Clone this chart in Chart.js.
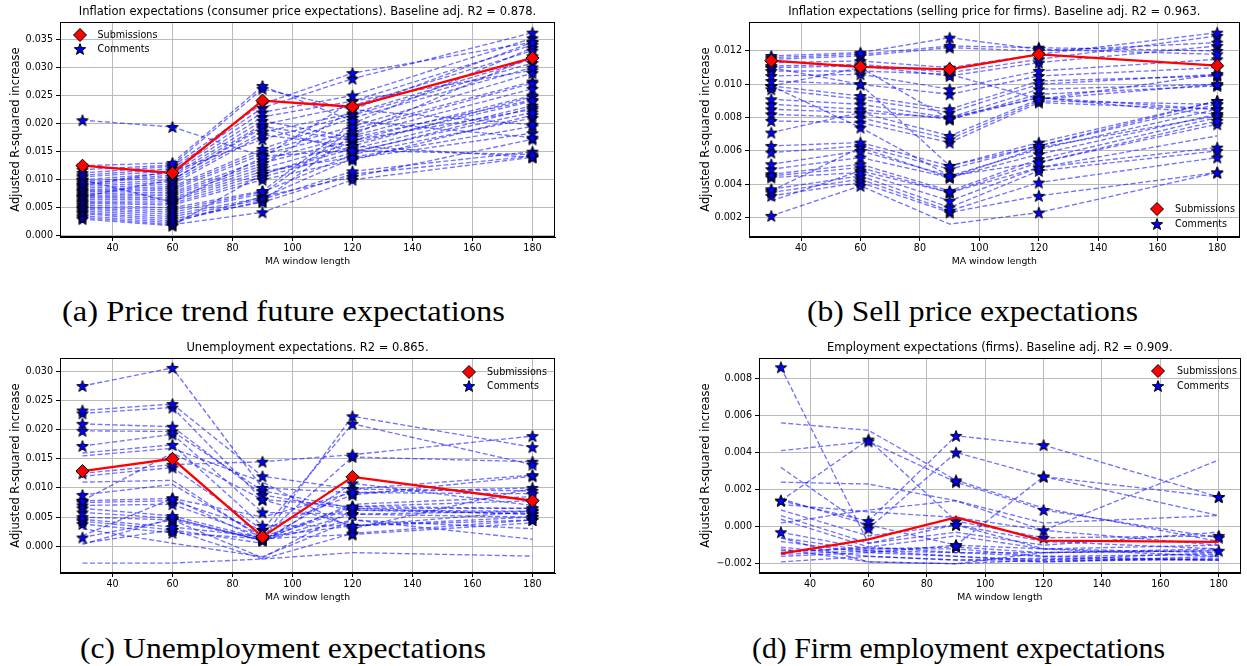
<!DOCTYPE html>
<html>
<head>
<meta charset="utf-8">
<script src="https://cdn.jsdelivr.net/npm/chart.js@4.4.1/dist/chart.umd.min.js"></script>
<style>
  html, body { margin: 0; padding: 0; background: #fff; }
  body { width: 1247px; height: 666px; position: relative; overflow: hidden; }
  canvas { position: absolute; }
  .cap { position: absolute; white-space: nowrap; font-family: "Liberation Serif", "Times New Roman", serif; font-size: 30px; color: #000; transform-origin: 0 50%; line-height: 30px; }
  .leg { position: absolute; font-family: "DejaVu Sans", sans-serif; font-size: 9.6px; color: #000; white-space: nowrap; line-height: 12px; }
  .legm { position: absolute; }
</style>
</head>
<body>
<canvas id="ca" width="575" height="275" style="left:0px;top:0px"></canvas>
<canvas id="cb" width="557" height="275" style="left:690px;top:0px"></canvas>
<canvas id="cc" width="575" height="275" style="left:0px;top:336px"></canvas>
<canvas id="cd" width="557" height="275" style="left:690px;top:336px"></canvas>
<script>
// ---------------- data ----------------
const xWindows = [30, 60, 90, 120, 180];
const xTickValues = [40, 60, 80, 100, 120, 140, 160, 180];

const titleA = 'Inflation expectations (consumer price expectations). Baseline adj. R2 = 0.878.';
const titleB = 'Inflation expectations (selling price for firms). Baseline adj. R2 = 0.963.';
const titleC = 'Unemployment expectations. R2 = 0.865.';
const titleD = 'Employment expectations (firms). Baseline adj. R2 = 0.909.';

const captionA = '(a) Price trend future expectations';
const captionB = '(b) Sell price expectations';
const captionC = '(c) Unemployment expectations';
const captionD = '(d) Firm employment expectations';

const legendLabels = ['Submissions', 'Comments'];

const aSubmissions = [0.0125, 0.0112, 0.0241, 0.0230, 0.0317];
const aComments = [
  [0.0206, 0.0194, 0.0142, 0.0152, 0.0145],
  [0.0125, 0.0130, 0.0267, 0.0205, 0.0175],
  [0.0118, 0.0126, 0.0262, 0.0225, 0.0198],
  [0.0112, 0.0124, 0.0235, 0.0290, 0.0345],
  [0.0108, 0.0120, 0.0228, 0.0280, 0.0362],
  [0.0105, 0.0116, 0.0220, 0.0250, 0.0352],
  [0.0100, 0.0112, 0.0212, 0.0240, 0.0340],
  [0.0097, 0.0108, 0.0205, 0.0175, 0.0242],
  [0.0094, 0.0105, 0.0198, 0.0232, 0.0330],
  [0.0091, 0.0100, 0.0192, 0.0150, 0.0220],
  [0.0088, 0.0096, 0.0185, 0.0218, 0.0315],
  [0.0085, 0.0092, 0.0180, 0.0160, 0.0140],
  [0.0082, 0.0088, 0.0155, 0.0210, 0.0300],
  [0.0080, 0.0085, 0.0150, 0.0195, 0.0290],
  [0.0078, 0.0082, 0.0145, 0.0185, 0.0272],
  [0.0075, 0.0078, 0.0135, 0.0178, 0.0262],
  [0.0072, 0.0075, 0.0130, 0.0170, 0.0250],
  [0.0070, 0.0072, 0.0125, 0.0225, 0.0345],
  [0.0068, 0.0068, 0.0120, 0.0165, 0.0240],
  [0.0065, 0.0065, 0.0115, 0.0140, 0.0195],
  [0.0062, 0.0062, 0.0110, 0.0155, 0.0232],
  [0.0060, 0.0058, 0.0105, 0.0148, 0.0228],
  [0.0058, 0.0055, 0.0100, 0.0135, 0.0215],
  [0.0055, 0.0050, 0.0080, 0.0200, 0.0335],
  [0.0052, 0.0046, 0.0078, 0.0145, 0.0210],
  [0.0050, 0.0042, 0.0075, 0.0190, 0.0275],
  [0.0048, 0.0038, 0.0068, 0.0138, 0.0183],
  [0.0045, 0.0034, 0.0065, 0.0115, 0.0150],
  [0.0042, 0.0030, 0.0060, 0.0110, 0.0142],
  [0.0040, 0.0026, 0.0062, 0.0180, 0.0320],
  [0.0036, 0.0023, 0.0070, 0.0105, 0.0172],
  [0.0033, 0.0020, 0.0042, 0.0100, 0.0140],
  [0.0030, 0.0018, 0.0110, 0.0160, 0.0248],
  [0.0090, 0.0115, 0.0172, 0.0215, 0.0308],
  [0.0100, 0.0060, 0.0140, 0.0240, 0.0295],
  [0.0070, 0.0100, 0.0195, 0.0170, 0.0225]
];

const bSubmissions = [0.01142, 0.01105, 0.01090, 0.01180, 0.01112];
const bComments = [
  [0.0117, 0.0119, 0.0128, 0.0121, 0.0118],
  [0.0116, 0.0118, 0.0123, 0.0122, 0.0120],
  [0.0115, 0.0117, 0.0122, 0.0120, 0.0125],
  [0.0113, 0.0114, 0.0110, 0.0118, 0.0131],
  [0.0111, 0.0112, 0.0107, 0.0115, 0.0129],
  [0.0110, 0.0111, 0.0105, 0.0113, 0.0123],
  [0.0108, 0.0108, 0.0106, 0.0091, 0.0106],
  [0.0105, 0.0106, 0.0097, 0.0108, 0.0115],
  [0.0102, 0.0100, 0.0094, 0.0105, 0.0110],
  [0.0099, 0.0093, 0.0085, 0.0102, 0.0105],
  [0.0097, 0.0091, 0.0083, 0.0100, 0.0106],
  [0.0091, 0.0088, 0.0080, 0.0097, 0.0100],
  [0.0088, 0.0085, 0.0079, 0.0094, 0.0099],
  [0.0085, 0.0083, 0.0069, 0.0091, 0.0100],
  [0.0082, 0.0080, 0.0067, 0.0090, 0.0088],
  [0.0078, 0.0077, 0.0065, 0.0089, 0.0085],
  [0.0071, 0.0083, 0.0080, 0.0092, 0.0082],
  [0.0099, 0.0074, 0.0045, 0.0053, 0.0078],
  [0.0110, 0.0100, 0.0051, 0.0063, 0.0090],
  [0.0063, 0.0065, 0.0051, 0.0065, 0.0090],
  [0.0059, 0.0063, 0.0049, 0.0063, 0.0088],
  [0.0052, 0.0060, 0.0045, 0.0061, 0.0085],
  [0.0049, 0.0056, 0.0044, 0.0058, 0.0082],
  [0.0046, 0.0052, 0.0036, 0.0055, 0.0080],
  [0.0045, 0.0050, 0.0035, 0.0053, 0.0076],
  [0.0044, 0.0047, 0.0030, 0.0050, 0.0062],
  [0.0037, 0.0045, 0.0026, 0.0048, 0.0060],
  [0.0035, 0.0043, 0.0024, 0.0041, 0.0056],
  [0.0033, 0.0041, 0.0023, 0.0033, 0.0047],
  [0.0021, 0.0039, 0.0016, 0.0023, 0.0047],
  [0.0030, 0.0048, 0.0035, 0.0050, 0.0069],
  [0.0036, 0.0062, 0.0044, 0.0062, 0.0081],
  [0.0099, 0.0110, 0.0079, 0.0092, 0.0085]
];
const bStars = [
  '11111','11111','11111','11111','11111','11111','11111','11111','11111','11111',
  '11111','11111','11111','11111','11111','11111','11111','11111','11111','11111',
  '11111','11111','11111','11111','11111','11111','11111','11111','11111','11011',
  '01110','11111','11111'
];

const cSubmissions = [0.0129, 0.0150, 0.0016, 0.0119, 0.0078];
const cComments = [
  [0.0275, 0.0306, 0.0100, 0.0092, 0.0090],
  [0.0233, 0.0244, 0.0120, 0.0098, 0.0095],
  [0.0228, 0.0238, 0.0080, 0.0068, 0.0065],
  [0.0210, 0.0205, 0.0088, 0.0062, 0.0060],
  [0.0198, 0.0197, 0.0095, 0.0065, 0.0055],
  [0.0172, 0.0192, 0.0058, 0.0055, 0.0050],
  [0.0160, 0.0174, 0.0035, 0.0035, 0.0045],
  [0.0155, 0.0168, 0.0110, 0.0030, 0.0100],
  [0.0125, 0.0140, 0.0145, 0.0157, 0.0189],
  [0.0120, 0.0135, 0.0028, 0.0210, 0.0140],
  [0.0110, 0.0113, 0.0013, 0.0223, 0.0170],
  [0.0088, 0.0106, 0.0016, 0.0153, 0.0145],
  [0.0078, 0.0082, 0.0010, 0.0098, 0.0122],
  [0.0075, 0.0078, 0.0028, 0.0088, 0.0120],
  [0.0070, 0.0072, 0.0016, 0.0068, 0.0078],
  [0.0065, 0.0052, 0.0013, 0.0065, 0.0065],
  [0.0058, 0.0048, 0.0010, 0.0055, 0.0060],
  [0.0050, 0.0045, -0.0020, 0.0062, 0.0055],
  [0.0046, 0.0033, 0.0016, 0.0035, 0.0050],
  [0.0043, 0.0028, -0.0022, 0.0022, 0.0045],
  [0.0038, 0.0023, 0.0013, 0.0020, 0.0040],
  [0.0015, 0.0045, 0.0010, 0.0072, 0.0085],
  [0.0030, 0.0005, -0.0018, 0.0045, 0.0030],
  [0.0005, 0.0028, 0.0005, 0.0108, 0.0070],
  [-0.0029, -0.0029, -0.0022, -0.0011, -0.0017],
  [0.0003, 0.0048, 0.0010, 0.0045, 0.0012],
  [0.0018, 0.0082, 0.0050, 0.0092, 0.0100],
  [0.0078, 0.0160, 0.0080, 0.0035, 0.0060]
];
const cStars = [
  '11111','11111','11111','11111','11111','11111','01111','00010','11111','01111',
  '00111','10111','11111','11111','11111','11111','11111','11011','11111','11011',
  '11110','11100','00000','01010','00000','01000','01011','10101'
];

const dSubmissions = [-0.00145, -0.00068, 0.00050, -0.00075, -0.00082];
const dComments = [
  [0.0086, -0.0009, 0.0001, -0.0012, -0.0014],
  [0.0056, 0.0052, 0.0025, 0.0010, -0.0008],
  [0.0041, 0.0046, 0.0024, 0.0009, -0.0006],
  [0.0014, 0.0047, 0.0003, -0.0006, -0.0005],
  [0.0014, 0.0003, 0.0049, 0.0044, 0.0016],
  [0.0032, -0.0001, 0.0040, 0.0027, 0.0016],
  [0.0024, 0.0023, 0.0014, -0.0002, 0.0036],
  [0.0015, 0.0001, -0.0010, 0.0027, 0.0006],
  [0.0012, 0.0008, 0.0005, -0.0002, -0.0010],
  [0.0009, -0.0005, 0.0001, -0.0008, -0.0012],
  [0.0006, -0.0009, -0.0003, -0.0010, -0.0003],
  [0.0004, -0.0011, -0.0005, -0.0012, -0.0016],
  [-0.0003, -0.0012, -0.0011, -0.0014, -0.0013],
  [-0.0006, -0.0013, -0.0014, -0.0016, -0.0018],
  [-0.0008, -0.0014, -0.0016, -0.0018, -0.0014],
  [-0.0011, -0.0016, -0.0018, -0.0019, -0.0016],
  [-0.0012, -0.0019, -0.0020, -0.0018, -0.0018],
  [-0.0013, -0.0012, -0.0012, -0.0016, -0.0015],
  [-0.0014, -0.0011, -0.0014, -0.0014, -0.0012],
  [-0.0015, -0.0013, -0.0016, -0.0019, -0.0017],
  [-0.0016, -0.0014, -0.0010, -0.0012, -0.0010],
  [-0.0019, -0.0016, -0.0018, -0.0017, -0.0018],
  [0.0002, 0.0009, 0.0014, 0.0002, 0.0006],
  [-0.0006, -0.0019, -0.0020, -0.0014, -0.0013]
];
const dStars = [
  '10100','00100','01111','11111','11111','01111','00010','01110','00000','00100',
  '00000','00000','10101','00000','00000','00000','00000','00000','00000','00000',
  '00100','00000','00000','00000'
];

// ---------------- rendering ----------------
const BASE_FONT = 9.6;
const TITLE_FONT = 11.5;
const YLABEL_FONT = 11.5;
const XLABEL_FONT = 9.3;

Chart.defaults.font.family = '"DejaVu Sans", sans-serif';
Chart.defaults.font.size = BASE_FONT;
Chart.defaults.color = '#000';

function makeStarImage() {
  const c = document.createElement('canvas');
  c.width = 14; c.height = 14;
  const g = c.getContext('2d');
  g.beginPath();
  for (let i = 0; i < 10; i++) {
    const r = i % 2 ? 2.5 : 6;
    const a = -Math.PI / 2 + i * Math.PI / 5;
    g.lineTo(7 + r * Math.cos(a), 7.6 + r * Math.sin(a));
  }
  g.closePath();
  g.fillStyle = '#0000ff';
  g.fill();
  g.lineWidth = 1;
  g.strokeStyle = '#000';
  g.stroke();
  return c;
}
const STAR = makeStarImage();

const framePlugin = {
  id: 'frame',
  afterDatasetsDraw(chart) {
    const a = chart.chartArea;
    const ctx = chart.ctx;
    ctx.save();
    ctx.strokeStyle = '#000';
    ctx.lineWidth = 1;
    ctx.strokeRect(Math.round(a.left) + 0.5, Math.round(a.top) + 0.5,
      Math.round(a.right) - Math.round(a.left) - 1, Math.round(a.bottom) - Math.round(a.top) - 1);
    ctx.restore();
  }
};

function fmtTick(v) {
  if (Math.abs(v) < 1e-12) v = 0;
  return v.toFixed(3).replace('-', '\u2212');
}

function makeChart(id, spec) {
  const datasets = [];
  datasets.push({
    label: legendLabels[0],
    data: xWindows.map((x, i) => ({ x: x, y: spec.sub[i] })),
    borderColor: '#ff0000',
    borderWidth: 2.3,
    pointStyle: 'rectRot',
    pointRadius: spec.subMarkers ? 6.5 : 0,
    pointHoverRadius: spec.subMarkers ? 6.5 : 0,
    pointBackgroundColor: '#ff0000',
    pointBorderColor: '#000',
    pointBorderWidth: 1,
    clip: false
  });
  spec.comments.forEach((row, k) => {
    const marks = spec.stars ? spec.stars[k] : '11111';
    datasets.push({
      label: legendLabels[1],
      data: xWindows.map((x, i) => ({ x: x, y: row[i] })),
      borderColor: 'rgba(0,0,255,0.55)',
      borderWidth: 1.35,
      borderDash: [5, 2.5],
      pointStyle: STAR,
      pointRadius: marks.split('').map(c => (c === '1' ? 5 : 0)),
      pointHoverRadius: 0,
      clip: false
    });
  });
  return new Chart(document.getElementById(id), {
    type: 'line',
    data: { datasets: datasets },
    plugins: [framePlugin],
    options: {
      responsive: false,
      animation: false,
      devicePixelRatio: 1,
      events: [],
      layout: { padding: { left: 0, top: 0, right: spec.padRight, bottom: 0 } },
      plugins: {
        legend: { display: false },
        tooltip: { enabled: false },
        title: {
          display: true,
          text: spec.title,
          fullSize: false,
          font: { size: TITLE_FONT, weight: 'normal' },
          color: '#000',
          padding: { top: 4.8, bottom: 3.4 }
        }
      },
      scales: {
        x: {
          type: 'linear',
          min: 22.5,
          max: 187.5,
          afterFit: s => { s.height = 38; },
          afterBuildTicks: s => { s.ticks = xTickValues.map(v => ({ value: v })); },
          ticks: { stepSize: 20, includeBounds: false, padding: 1.5, color: '#000', callback: v => String(v), maxRotation: 0 },
          grid: { color: '#bababa', lineWidth: 1, tickColor: '#000', tickLength: 4 },
          border: { display: true, color: '#000', width: 1 },
          title: { display: true, text: 'MA window length', color: '#000', font: { size: XLABEL_FONT }, padding: { top: 0, bottom: 7.4 } }
        },
        y: {
          type: 'linear',
          min: spec.ymin,
          max: spec.ymax,
          afterFit: s => { s.width = spec.yWidth; },
          ticks: { stepSize: spec.ystep, includeBounds: false, padding: 3, color: '#000', callback: v => fmtTick(v) },
          grid: { color: '#bababa', lineWidth: 1, tickColor: '#000', tickLength: 4 },
          border: { display: true, color: '#000', width: 1 },
          title: { display: true, text: 'Adjusted R-squared increase', color: '#000', font: { size: YLABEL_FONT }, padding: { top: 9.1, bottom: 0 } }
        }
      }
    }
  });
}

makeChart('ca', { title: titleA, sub: aSubmissions, comments: aComments, stars: null, subMarkers: true,
  ymin: -0.0002, ymax: 0.0381, ystep: 0.005, yWidth: 60, padRight: 20 });
makeChart('cb', { title: titleB, sub: bSubmissions, comments: bComments, stars: bStars, subMarkers: true,
  ymin: 0.00083, ymax: 0.01374, ystep: 0.002, yWidth: 59, padRight: 3 });
makeChart('cc', { title: titleC, sub: cSubmissions, comments: cComments, stars: cStars, subMarkers: true,
  ymin: -0.0046, ymax: 0.0323, ystep: 0.005, yWidth: 60, padRight: 20 });
makeChart('cd', { title: titleD, sub: dSubmissions, comments: dComments, stars: dStars, subMarkers: false,
  ymin: -0.0025, ymax: 0.0091, ystep: 0.002, yWidth: 69, padRight: 3 });

// ---------------- legends (HTML overlay) ----------------
function svgMarker(kind) {
  const ns = 'http://www.w3.org/2000/svg';
  const svg = document.createElementNS(ns, 'svg');
  svg.setAttribute('width', '14'); svg.setAttribute('height', '14');
  const p = document.createElementNS(ns, 'polygon');
  let pts = [];
  if (kind === 'diamond') {
    pts = [[7, 0.5], [13.5, 7], [7, 13.5], [0.5, 7]];
    p.setAttribute('fill', '#ff0000');
  } else {
    for (let i = 0; i < 10; i++) {
      const r = i % 2 ? 2.5 : 6;
      const a = -Math.PI / 2 + i * Math.PI / 5;
      pts.push([7 + r * Math.cos(a), 7.6 + r * Math.sin(a)]);
    }
    p.setAttribute('fill', '#0000ff');
  }
  p.setAttribute('points', pts.map(q => q[0].toFixed(2) + ',' + q[1].toFixed(2)).join(' '));
  p.setAttribute('stroke', '#000');
  p.setAttribute('stroke-width', '1');
  svg.appendChild(p);
  return svg;
}
function addLegend(mx, y1, y2, tx) {
  [[y1, 'diamond', legendLabels[0]], [y2, 'star', legendLabels[1]]].forEach(([y, kind, label]) => {
    const m = svgMarker(kind);
    m.setAttribute('class', 'legm');
    m.style.left = (mx - 7) + 'px';
    m.style.top = (y - 7) + 'px';
    document.body.appendChild(m);
    const t = document.createElement('div');
    t.className = 'leg';
    t.textContent = label;
    t.style.left = tx + 'px';
    t.style.top = (y - 6) + 'px';
    document.body.appendChild(t);
  });
}
addLegend(80, 34.5, 49, 97.5);
addLegend(1157, 209, 223.5, 1175);
addLegend(468.5, 371.5, 386, 487);
addLegend(1158, 371, 385.5, 1177);

// ---------------- captions ----------------
function addCaption(text, x0, x1, yc) {
  const d = document.createElement('div');
  d.className = 'cap';
  d.textContent = text;
  document.body.appendChild(d);
  const w = d.getBoundingClientRect().width;
  d.style.left = x0 + 'px';
  d.style.top = (yc - 15) + 'px';
  d.style.transform = 'scaleX(' + ((x1 - x0) / w).toFixed(4) + ')';
}
addCaption(captionA, 62, 505, 311);
addCaption(captionB, 807, 1138, 311);
addCaption(captionC, 80, 486, 648);
addCaption(captionD, 752, 1165, 648);
</script>
</body>
</html>
